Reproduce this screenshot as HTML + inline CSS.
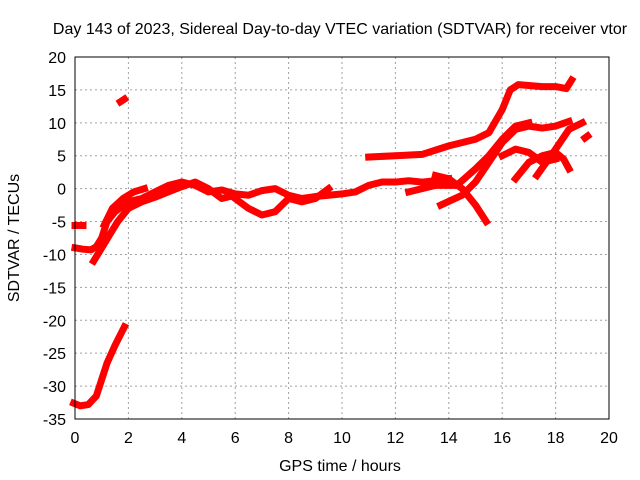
<!DOCTYPE html>
<html><head><meta charset="utf-8"><style>
body{margin:0;background:#fff}
svg{display:block;font-family:"Liberation Sans",sans-serif}
</style></head><body>
<svg id="chart" width="640" height="480">
<rect width="640" height="480" fill="#fff"/>
<text x="340" y="34" font-size="16" text-anchor="middle">Day 143 of 2023, Sidereal Day-to-day VTEC variation (SDTVAR) for receiver vtor</text>
<text x="340" y="471" font-size="16" text-anchor="middle">GPS time / hours</text>
<text x="19" y="238" font-size="16" text-anchor="middle" transform="rotate(-90 19 238)">SDTVAR / TECUs</text>
<g id="grid"></g><g id="series"></g><g id="axes"></g>
</svg>
<script>
const xTicks=[0,2,4,6,8,10,12,14,16,18,20];
const yTicks=[20,15,10,5,0,-5,-10,-15,-20,-25,-30,-35];
const s1x=[-0.05,0.2,0.5,0.8,1.0,1.2,1.5,1.85];
const s1y=[-32.6,-33,-32.8,-31.5,-29,-26.5,-23.8,-21];
const s2x=[0,0.3,0.6,0.8,1.0,1.2,1.5,2.0,2.5,3,3.5,4,4.5,5,5.5,6,6.5,7,7.5,8,8.5,9,9.5,10,10.5,11,11.5,12,12.5,13,13.5,14];
const s2y=[-9,-9.2,-9.3,-8.8,-7.5,-5,-3.5,-2,-1.5,-0.5,0.5,1,0.5,-0.5,-0.2,-0.8,-1,-0.3,0,-1,-1.5,-1.2,-1,-0.8,-0.5,0.5,1,1,1.2,1,1.2,1.5];
const s3x=[0.7,1.0,1.3,1.6,2,2.5,3,3.5,4,4.5,5,5.5,6];
const s3y=[-11,-9,-7,-5,-3,-2,-1.3,-0.5,0.3,1,0,-1.5,-1];
const s4x=[1.1,1.4,1.8,2.2,2.6];
const s4y=[-5.5,-3,-1.5,-0.5,0];
const s5x=[6,6.5,7,7.5,8,8.5,9,9.5];
const s5y=[-1.5,-3,-4,-3.5,-1.5,-2,-1.5,0];
const s6x=[11,12,13,14,15,15.5,16,16.3,16.6,17.5,18,18.4,18.6];
const s6y=[4.8,5,5.2,6.5,7.5,8.5,12,15,15.8,15.5,15.5,15.2,16.5];
const s7x=[13.7,14.5,15,15.5,16,16.5,17,17.5,18,18.5];
const s7y=[-2.5,-1,1,4,7,9,9.5,9.2,9.5,10.2];
const s8x=[12.5,13.5,14.3,15,15.5,16,16.5,17];
const s8y=[-0.5,0.5,0.5,3,5,7.5,9.5,10];
const s9x=[13.5,14,14.5,15,15.4];
const s9y=[2,1.5,0,-2.5,-5];
const s10x=[16.5,17,17.5,18,18.3,18.5];
const s10y=[1.5,4,5,5.5,4.5,3];
const s11x=[16,16.5,17,17.5,18];
const s11y=[5,6,5.5,4,4.5];
const s12x=[17.3,18,18.5,19];
const s12y=[2,6,9,10];
const s13x=[1.7,1.85];const s13y=[13.2,13.6];
const s14x=[0,0.3];const s14y=[-5.6,-5.6];
const s15x=[19.1,19.2];const s15y=[7.7,8];
const S=[[s1x,s1y],[s2x,s2y],[s3x,s3y],[s4x,s4y],[s5x,s5y],[s6x,s6y],[s7x,s7y],[s8x,s8y],[s9x,s9y],[s10x,s10y],[s11x,s11y],[s12x,s12y],[s13x,s13y],[s14x,s14y],[s15x,s15y]];
const L=75,R=609,T=57,B=419;
const X=v=>L+(v-0)/20*(R-L);
const Y=v=>T+(20-v)/55*(B-T);
const NS='http://www.w3.org/2000/svg';
function mk(t,a,p){const e=document.createElementNS(NS,t);for(const k in a)e.setAttribute(k,a[k]);p.appendChild(e);return e;}
const grid=document.getElementById('grid'),axes=document.getElementById('axes'),ser=document.getElementById('series');
xTicks.forEach(t=>{
 if(t>0&&t<20){const g=mk('line',{x1:X(t),x2:X(t),y1:T,y2:B,stroke:'#a0a0a0','stroke-dasharray':'2,3'},grid);
 
 }
 const tx=mk('text',{x:X(t),y:B+24,'font-size':16,'text-anchor':'middle'},axes);tx.textContent=t;
 
 
});
yTicks.forEach(t=>{
 if(t<20&&t>-35){const g=mk('line',{x1:L,x2:R,y1:Y(t),y2:Y(t),stroke:'#a0a0a0','stroke-dasharray':'2,3'},grid);
 
 }
 const tx=mk('text',{x:L-9,y:Y(t)+6,'font-size':16,'text-anchor':'end'},axes);tx.textContent=t;
 
 
});
const fr=mk('rect',{x:L,y:T,width:R-L,height:B-T,fill:'none',stroke:'#000','stroke-width':1},axes);


S.forEach((s,i)=>{
 const pts=s[0].map((x,j)=>X(x)+','+Y(s[1][j])).join(' ');
 const p=mk('polyline',{points:pts,fill:'none',stroke:'#ff0000','stroke-width':7,'stroke-linejoin':'round','stroke-linecap':'square'},ser);
 
 
});
</script>
</body></html>
